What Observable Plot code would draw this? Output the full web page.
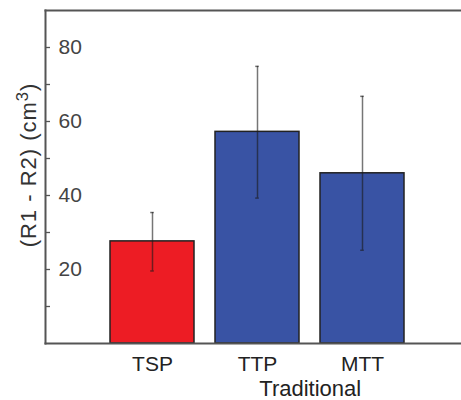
<!DOCTYPE html>
<html>
<head>
<meta charset="utf-8">
<script src="https://cdn.jsdelivr.net/npm/d3@7"></script>
<script src="https://cdn.jsdelivr.net/npm/@observablehq/plot@0.6"></script>
<style>
  html, body { margin: 0; padding: 0; background: #fff; }
  #chart svg { display: block; }
</style>
</head>
<body>
<div id="chart"></div>
<script>
const categories = ["TSP", "TTP", "MTT"];
const means = [27.6, 57.2, 46.0];
const lows = [19.6, 39.3, 25.2];
const highs = [35.4, 74.9, 66.8];
const barColors = ["#ED1C24", "#3953A4", "#3953A4"];
const yTickLabels = [20, 40, 60, 80];
const yMinorTicks = [10, 20, 30, 40, 50, 60, 70, 80];
const groupLabel = "Traditional";
const groupAfter = "TTP";
const yLabel = "(R1 - R2) (cm3)";

const table = categories.map((c, i) => ({cat: c, mean: means[i], lo: lows[i], hi: highs[i], color: barColors[i]}));

const W = 461, H = 400, ML = 45, MT = 10, MB = 57;
const step = 105.5;

const chart = Plot.plot({
  width: W,
  height: H,
  marginLeft: ML,
  marginRight: 0,
  marginTop: MT,
  marginBottom: MB,
  style: {fontFamily: "'Liberation Sans', Arial, Helvetica, sans-serif", background: "#fff"},
  x: {domain: categories, range: [109 - 0.1 * step, 109 - 0.1 * step + 3 * step], paddingInner: 0.2, paddingOuter: 0.1, axis: null},
  y: {domain: [0, 90], axis: null},
  color: {type: "identity"},
  marks: [
    Plot.barY(table, {x: "cat", y: "mean", fill: "color", stroke: "#222", strokeWidth: 1.5}),
    Plot.ruleX(table, {x: "cat", y1: "lo", y2: "hi", stroke: "#1a1a1a", strokeOpacity: 0.6, strokeWidth: 1.5}),
    Plot.tickY(table, {x: "cat", y: "lo", stroke: "#1a1a1a", strokeOpacity: 0.6, strokeWidth: 1.5, insetLeft: 40.2, insetRight: 40.2}),
    Plot.tickY(table, {x: "cat", y: "hi", stroke: "#1a1a1a", strokeOpacity: 0.6, strokeWidth: 1.5, insetLeft: 40.2, insetRight: 40.2}),
    Plot.ruleY(yMinorTicks, {y: d => d, stroke: "#555", strokeWidth: 1.3, insetRight: W - ML - 5}),
    Plot.text(yTickLabels, {y: d => d, text: d => String(d), frameAnchor: "left", textAnchor: "start", dx: 13, fontSize: 21, fill: "#444"}),
    Plot.text(categories, {x: d => d, text: d => d, frameAnchor: "bottom", lineAnchor: "top", dy: 13, fontSize: 21, fill: "#222"}),
    Plot.text([groupLabel], {x: () => groupAfter, text: d => d, frameAnchor: "bottom", lineAnchor: "top", dx: step / 2, dy: 37, fontSize: 22, fill: "#222"}),
    Plot.text([yLabel], {text: d => d, frameAnchor: "left", textAnchor: "middle", rotate: -90, lineAnchor: "bottom", dx: -10, dy: -12, fontSize: 22, fill: "#333", className: "ylabel"}),
    Plot.frame({anchor: "left", stroke: "#555", strokeWidth: 2}),
    Plot.frame({anchor: "top", stroke: "#555", strokeWidth: 2}),
    Plot.frame({anchor: "bottom", stroke: "#555", strokeWidth: 2})
  ]
});

// superscript the exponent in the y-axis label
d3.select(chart).selectAll("g.ylabel text").each(function() {
  const t = d3.select(this);
  const s = t.text();
  const m = s.match(/^(.*\(cm)(\d)(\))$/);
  if (!m) return;
  t.text(null).style("letter-spacing", "1px");
  t.append("tspan").text(m[1]);
  t.append("tspan").attr("dy", "-0.45em").attr("font-size", "0.75em").text(m[2]);
  t.append("tspan").attr("dy", "0.34em").text(m[3]);
});

document.getElementById("chart").appendChild(chart);
</script>
</body>
</html>
